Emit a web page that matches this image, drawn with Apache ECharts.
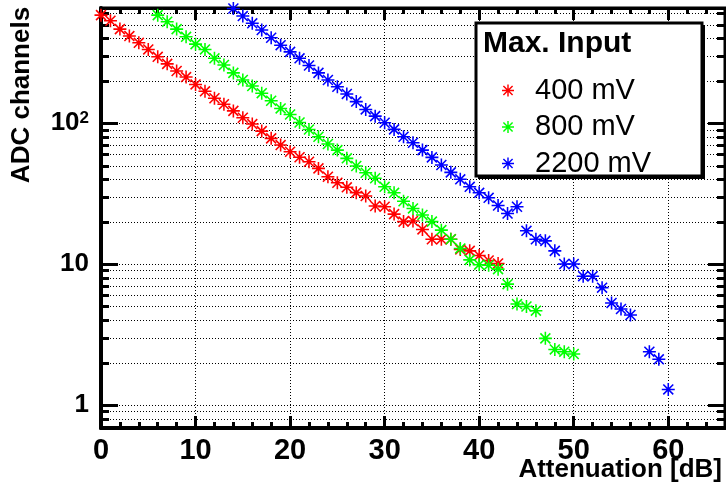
<!DOCTYPE html>
<html>
<head>
<meta charset="utf-8">
<script src="https://cdn.jsdelivr.net/npm/echarts@6/dist/echarts.min.js"></script>
<style>
  html, body { margin: 0; padding: 0; background: #fff; }
  #chart { width: 726px; height: 488px; }
</style>
</head>
<body>
<div id="chart"></div>
<script>
// ---- data ----
const x400 = [0,1,2,3,4,5,6,7,8,9,10,11,12,13,14,15,16,17,18,19,20,21,22,23,24,25,26,27,28,29,30,31,32,33,34,35,36,37,38,39,40,41,42];
const y400 = [583,532,464,414,371,333,295,263,234,212,188,168,150,136,122,109,98.4,87.7,77.9,69.8,62.6,57.2,53.2,47.7,41.6,37.7,35.0,32.1,30.4,25.8,25.5,22.6,20.0,20.2,17.6,15.0,15.0,15.0,12.7,12.4,11.5,10.6,10.1];

const x800 = [6,7,8,9,10,11,12,13,14,15,16,17,18,19,20,21,22,23,24,25,26,27,28,29,30,31,32,33,34,35,36,37,38,39,40,41,42,43,44,45,46,47,48,49,50];
const y800 = [583,523,464,409,363,333,288,258,227,202,183,163,144,127,115,101,90,80,71,64.3,56.2,49.6,44.4,40.6,35.3,32.0,27.9,24.8,22.3,20.0,17.4,15.0,12.9,10.7,9.9,9.8,9.2,7.2,5.2,5.0,4.67,2.97,2.48,2.39,2.30];

const x2200 = [14,15,16,17,18,19,20,21,22,23,24,25,26,27,28,29,30,31,32,33,34,35,36,37,38,39,40,41,42,43,44,45,46,47,48,49,50,51,52,53,54,55,56,58,59,60];
const y2200 = [650,574,510,457,403,357,320,288,256,227,202,181,161,142,125,112,100.5,90.2,80,72.5,64.3,57.1,50.4,44.7,39.9,35.3,32.0,29.5,26.0,22.8,25.5,17.2,15.0,14.6,12.4,10.0,10.0,8.2,8.2,6.8,5.3,4.8,4.35,2.39,2.11,1.29];

const seriesNames = ['400 mV', '800 mV', '2200 mV'];
const legendTitle = 'Max. Input';
const xTitle = 'Attenuation [dB]';
const yTitle = 'ADC channels';

const xRange = [0, 66];
const yRange = [0.687, 655];
const yGridValues = [0.7,0.8,0.9,1,2,3,4,5,6,7,8,9,10,20,30,40,50,60,70,80,90,100,200,300,400,500,600];
const yMajorValues = [1, 10, 100];

// ---- styling ----
const FONT = "'Liberation Sans', Arial, Helvetica, sans-serif";
const colors = ['#ff0000', '#00ff00', '#0000ff'];
const STAR = 'path://M-0.12,-1L0.12,-1L0.12,1L-0.12,1Z' +
  'M-1,-0.12L1,-0.12L1,0.12L-1,0.12Z' +
  'M-0.85,-0.68L-0.68,-0.85L0.85,0.68L0.68,0.85Z' +
  'M-0.68,0.85L-0.85,0.68L0.68,-0.85L0.85,-0.68Z' +
  'M-0.22,-0.22L0.22,-0.22L0.22,0.22L-0.22,0.22Z';

function pairs(xs, ys) { return xs.map((x, i) => [x, ys[i]]); }

const chart = echarts.init(document.getElementById('chart'), null, { renderer: 'canvas' });

const scatter = (name, xs, ys, c) => ({
  name: name,
  type: 'scatter',
  data: pairs(xs, ys),
  symbol: STAR,
  symbolSize: 13,
  clip: false,
  itemStyle: { color: c, opacity: 1 },
  emphasis: { disabled: true },
  z: 5
});

const option = {
  animation: false,
  backgroundColor: '#fff',
  grid: { left: 101, top: 8, width: 624, height: 420, show: true, borderColor: '#000', borderWidth: 3, backgroundColor: 'transparent' },
  xAxis: [{
    type: 'value', min: xRange[0], max: xRange[1], interval: 10,
    position: 'bottom',
    axisLine: { show: true, lineStyle: { color: '#000', width: 4 } },
    axisTick: { show: true, inside: true, length: 12, lineStyle: { color: '#000', width: 3 } },
    minorTick: { show: true, splitNumber: 5, length: 6, lineStyle: { color: '#000', width: 3 } },
    axisLabel: { show: true, margin: 8, fontFamily: FONT, fontWeight: 'bold', fontSize: 29, color: '#000',
      showMaxLabel: false, formatter: v => String(v) },
    splitLine: { show: true, lineStyle: { color: '#000', width: 1, type: [1, 2] } }
  }, {
    type: 'value', min: xRange[0], max: xRange[1], interval: 10,
    position: 'top',
    axisLine: { show: true, lineStyle: { color: '#000', width: 3 } },
    axisTick: { show: true, inside: true, length: 12, lineStyle: { color: '#000', width: 3 } },
    minorTick: { show: true, splitNumber: 5, length: 6, lineStyle: { color: '#000', width: 3 } },
    axisLabel: { show: false },
    splitLine: { show: false }
  }],
  yAxis: [{
    type: 'log', logBase: 10, min: yRange[0], max: yRange[1],
    axisLine: { show: true, lineStyle: { color: '#000', width: 4 } },
    axisTick: { show: false },
    splitLine: { show: false },
    axisLabel: {
      show: true, margin: 12, fontFamily: FONT, fontWeight: 'bold', fontSize: 26, color: '#000',
      showMinLabel: false, showMaxLabel: false,
      formatter: v => {
        const r = Math.round(v);
        if (r === 100) return '10{s|2}';
        return String(r);
      },
      rich: { s: { fontFamily: FONT, fontWeight: 'bold', fontSize: 17, verticalAlign: 'top', lineHeight: 14, padding: [0, 0, 14, 0] } }
    }
  }],
  legend: {
    orient: 'vertical',
    left: 497, top: 71,
    itemWidth: 12, itemHeight: 12, itemGap: 7.5,
    icon: STAR,
    data: seriesNames,
    textStyle: { fontFamily: FONT, fontSize: 29, color: '#000', padding: [0, 0, 0, 16] },
    selectedMode: false,
    z: 20
  },
  graphic: [
    { type: 'rect', z: 15, shape: { x: 478, y: 25, width: 227, height: 154 }, style: { fill: '#000' } },
    { type: 'rect', z: 16, shape: { x: 476, y: 23, width: 226, height: 153 }, style: { fill: '#fff', stroke: '#000', lineWidth: 3 } },
    { type: 'text', z: 21, x: 483, y: 44, style: { text: legendTitle, font: 'bold 30px ' + FONT, fill: '#000', textVerticalAlign: 'middle' } },
    { type: 'text', z: 21, x: 722, y: 470, style: { text: xTitle, font: 'bold 26px ' + FONT, fill: '#000', textAlign: 'right', textVerticalAlign: 'middle' } },
    { type: 'text', z: 21, x: 22, y: 95, rotation: Math.PI / 2, style: { text: yTitle, font: 'bold 26px ' + FONT, fill: '#000', textAlign: 'center', textVerticalAlign: 'middle' } }
  ],
  series: [
    {
      name: 'ygrid',
      type: 'custom',
      silent: true,
      clip: false,
      z: 1,
      data: yGridValues.map(v => [xRange[0], v]),
      encode: { x: 0, y: 1 },
      renderItem: function (params, api) {
        const v = api.value(1);
        const L = api.coord([xRange[0], v]);
        const R = api.coord([xRange[1], v]);
        const y = Math.round(L[1]) + 0.5;
        const major = yMajorValues.indexOf(v) >= 0;
        const len = major ? 17 : 8;
        return {
          type: 'group',
          children: [
            { type: 'line', shape: { x1: L[0], y1: y, x2: R[0], y2: y }, style: { stroke: '#000', lineWidth: 1, lineDash: [1, 2] } },
            { type: 'line', shape: { x1: L[0], y1: y, x2: L[0] + len, y2: y }, style: { stroke: '#000', lineWidth: 3 } },
            { type: 'line', shape: { x1: R[0] - len, y1: y, x2: R[0], y2: y }, style: { stroke: '#000', lineWidth: 3 } }
          ]
        };
      }
    },
    scatter(seriesNames[0], x400, y400, colors[0]),
    scatter(seriesNames[1], x800, y800, colors[1]),
    scatter(seriesNames[2], x2200, y2200, colors[2])
  ]
};
chart.setOption(option);
</script>
</body>
</html>
